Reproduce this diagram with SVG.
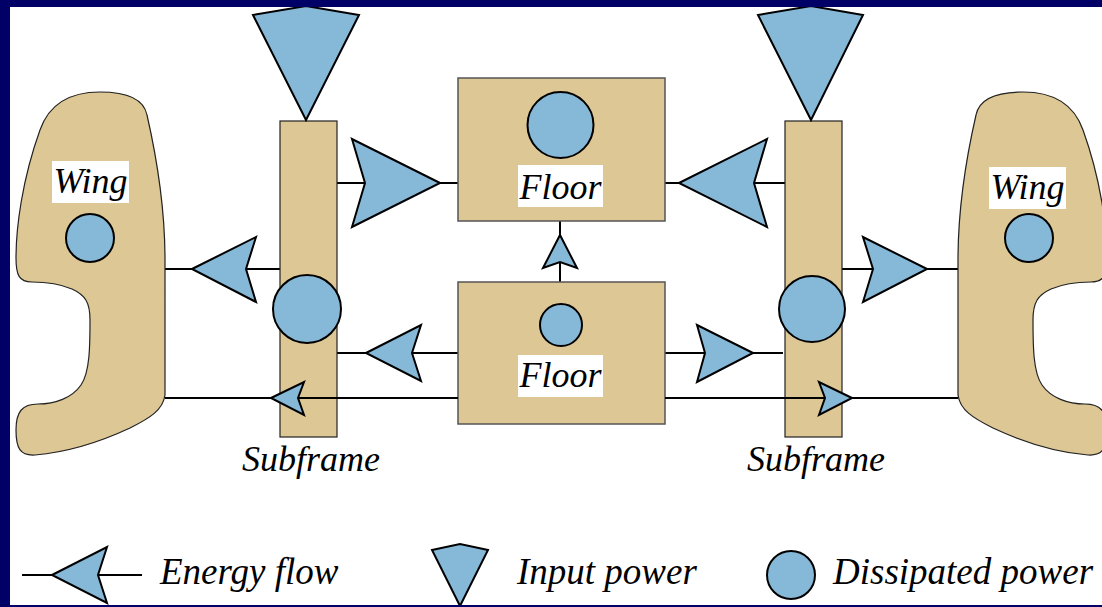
<svg xmlns="http://www.w3.org/2000/svg" width="1102" height="607" viewBox="0 0 1102 607">
<style>
.tan{fill:#dcc795;stroke:#222;stroke-width:1.2}
.box{fill:#dcc795;stroke:#555;stroke-width:1.5}
.blue{fill:#86b8d8;stroke:#000;stroke-width:2;stroke-linejoin:miter}
.ln{stroke:#000;stroke-width:2;fill:none}
.lbl{font-family:"Liberation Serif","Times New Roman",serif;font-style:italic;font-size:36px;fill:#000}
.leg{font-size:37px}
.bg{fill:#fff}
</style>
<defs>
<path id="wingShape" d="M100,92 C130,92 144,100 147,115 C155,150 165,200 165,260 L165,395 C163,410 150,418 130,428 C100,442 70,452 35,455 C20,456 16,448 16,430 C16,412 22,404 38,404 C55,404 72,398 81,385 C90,372 90,345 90,320 C90,302 85,295 72,289 C58,283 42,282 32,282 C19,282 16,275 16,258 C16,228 22,180 40,130 C47,110 62,92 100,92 Z"/>
</defs>
<rect x="0" y="0" width="1102" height="607" fill="#fff"/>

<g id="connectors">
<line class="ln" x1="337" y1="183" x2="458" y2="183"/>
<line class="ln" x1="665" y1="183" x2="785" y2="183"/>
<line class="ln" x1="165" y1="269" x2="280" y2="269"/>
<line class="ln" x1="842" y1="269" x2="958" y2="269"/>
<line class="ln" x1="337" y1="353" x2="458" y2="353"/>
<line class="ln" x1="665" y1="353" x2="783" y2="353"/>
<line class="ln" x1="560" y1="221" x2="560" y2="282"/>
<polygon class="blue" points="440,183 352,139 365,183 352,227"/>
<polygon class="blue" points="679,183 767,139 754,183 767,227"/>
<polygon class="blue" points="192,269 256,237 246,269 256,302"/>
<polygon class="blue" points="927,269 863,237 873,269 863,302"/>
<polygon class="blue" points="366,353 421,325 412,353 421,381"/>
<polygon class="blue" points="753,353 697,325 705,353 697,382"/>
<polygon class="blue" points="560,235 543,268 560,262 577,268"/>
</g>

<g id="wing-left">
<use href="#wingShape" class="tan"/>
<rect class="bg" x="52" y="161" width="77" height="42"/>
<text class="lbl" x="90.5" y="193" text-anchor="middle">Wing</text>
<circle class="blue" cx="90" cy="238" r="24"/>
</g>

<g id="wing-right">
<use href="#wingShape" class="tan" transform="translate(1123,0) scale(-1,1)"/>
<rect class="bg" x="989" y="167" width="77" height="42"/>
<text class="lbl" x="1027.5" y="199" text-anchor="middle">Wing</text>
<circle class="blue" cx="1029" cy="238" r="24"/>
</g>

<g id="subframe-left">
<rect class="tan" x="280" y="121" width="57" height="316"/>
<circle class="blue" cx="307" cy="309" r="34"/>
<text class="lbl" x="311" y="471" text-anchor="middle">Subframe</text>
</g>

<g id="subframe-right">
<rect class="tan" x="785" y="121" width="57" height="316"/>
<circle class="blue" cx="812" cy="309" r="33"/>
<text class="lbl" x="816" y="471" text-anchor="middle">Subframe</text>
</g>

<g id="floor-top">
<rect class="box" x="458" y="78" width="207" height="143"/>
<circle class="blue" cx="560.5" cy="125" r="33"/>
<rect class="bg" x="518" y="165" width="85" height="42"/>
<text class="lbl" x="560.5" y="199" text-anchor="middle">Floor</text>
</g>

<g id="floor-bottom">
<rect class="box" x="458" y="282" width="207" height="142"/>
<circle class="blue" cx="561" cy="325" r="21"/>
<rect class="bg" x="518" y="355" width="85" height="42"/>
<text class="lbl" x="560.5" y="387" text-anchor="middle">Floor</text>
</g>

<g id="bottom-connectors">
<line class="ln" x1="165" y1="398" x2="458" y2="398"/>
<line class="ln" x1="665" y1="398" x2="958" y2="398"/>
<polygon class="blue" points="271,398 304,382 298,398 304,415"/>
<polygon class="blue" points="852,398 819,382 825,398 819,415"/>
</g>

<g id="input-left">
<polygon class="blue" points="253,15 306,6 359,15 306,120"/>
</g>
<g id="input-right">
<polygon class="blue" points="758,15 811,6 863,15 811,120"/>
</g>

<g id="legend">
<line class="ln" x1="22" y1="575" x2="142" y2="575"/>
<polygon class="blue" points="52,575 107,547 98,575 107,603"/>
<text class="lbl leg" x="160" y="584">Energy flow</text>
<polygon class="blue" points="432,550 460,544 488,550 460,606"/>
<text class="lbl leg" x="517" y="584">Input power</text>
<circle class="blue" cx="791" cy="575" r="24"/>
<text class="lbl leg" x="833" y="584">Dissipated power</text>
</g>

<g id="frame">
<rect x="0" y="0" width="1102" height="7" fill="#000066"/>
<rect x="0" y="0" width="10" height="607" fill="#000066"/>
<rect x="0" y="605" width="1102" height="2" fill="#000066"/>
</g>
</svg>
